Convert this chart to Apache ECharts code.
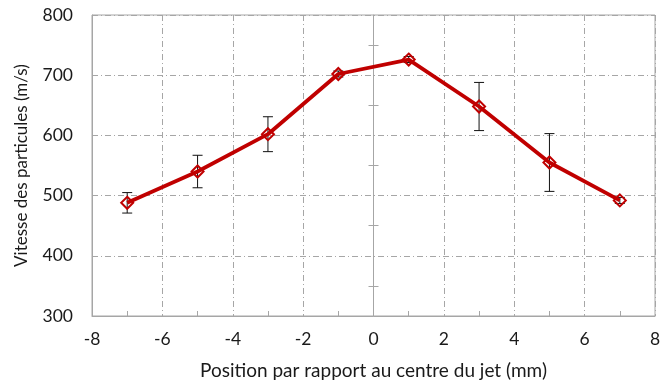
<!DOCTYPE html>
<html>
<head>
<meta charset="utf-8">
<script src="https://cdn.jsdelivr.net/npm/echarts@6/dist/echarts.min.js"></script>
<style>
  html, body { margin: 0; padding: 0; background: #fff; }
  #chart { width: 665px; height: 385px; }
</style>
</head>
<body>
<div id="chart"></div>
<script>
// Particle velocity across the jet, with measurement spread
const positions = [-7, -5, -3, -1, 1, 3, 5, 7];            // mm
const velocities = [488, 540, 602, 702, 726, 648, 555, 492]; // m/s
const spreads = [17, 27, 29, 5, 5, 40, 48, 5];               // ± m/s

const xTitle = 'Position par rapport au centre du jet (mm)';
const yTitle = 'Vitesse des particules (m/s)';

const FONT = 'Lato, "Open Sans", sans-serif';
const FRAME = '#a6a6a6';
const GRID = '#a6a6a6';
const RED = '#c00000';
const TEXT = '#1a1a1a';

const lineData = positions.map((x, i) => [x, velocities[i]]);
const barData = positions.map((x, i) => [x, velocities[i] - spreads[i], velocities[i] + spreads[i]]);

const chart = echarts.init(document.getElementById('chart'), null, { renderer: 'canvas' });

chart.setOption({
  animation: false,
  backgroundColor: '#fff',
  grid: {
    left: 92, right: 10, top: 15, bottom: 67,
    show: true, borderColor: FRAME, borderWidth: 1, backgroundColor: 'transparent'
  },
  xAxis: {
    type: 'value', min: -8, max: 8, interval: 2,
    name: xTitle, nameLocation: 'middle', nameGap: 45,
    nameTextStyle: { fontFamily: FONT, fontSize: 19, color: TEXT },
    axisLine: { show: true, onZero: false, lineStyle: { color: FRAME, width: 1 } },
    axisTick: { show: false, inside: true },
    minorTick: { show: true, splitNumber: 2, length: 5, lineStyle: { color: FRAME } },
    axisLabel: { fontFamily: FONT, fontSize: 17.5, color: TEXT, margin: 14 },
    splitLine: {
      show: true,
      lineStyle: { color: GRID, width: 1, type: [6, 3, 1, 3] }
    },
    minorSplitLine: { show: false }
  },
  yAxis: [
    {
      type: 'value', min: 300, max: 800, interval: 100,
      name: yTitle, nameLocation: 'middle', nameGap: 62,
      nameTextStyle: { fontFamily: FONT, fontSize: 17, color: TEXT },
      axisLine: { show: true, onZero: false, lineStyle: { color: FRAME, width: 1 } },
      axisTick: { show: false },
      axisLabel: { fontFamily: FONT, fontSize: 17.5, color: TEXT, margin: 19 },
      splitLine: {
        show: true,
        lineStyle: { color: GRID, width: 1, type: [6, 3, 1, 3] }
      }
    },
    {
      // central axis through x = 0, minor ticks pointing right
      type: 'value', min: 300, max: 800, interval: 100,
      axisLine: { show: true, onZero: true, onZeroAxisIndex: 0, lineStyle: { color: FRAME, width: 1 } },
      axisTick: { show: false, inside: true },
      minorTick: { show: true, splitNumber: 2, length: 5, lineStyle: { color: FRAME } },
      axisLabel: { show: false },
      splitLine: { show: false }
    },
    {
      // central axis through x = 0, minor ticks pointing left
      type: 'value', min: 300, max: 800, interval: 100,
      axisLine: { show: false, onZero: true, onZeroAxisIndex: 0 },
      axisTick: { show: false, inside: false },
      minorTick: { show: true, splitNumber: 2, length: 5, lineStyle: { color: FRAME } },
      axisLabel: { show: false },
      splitLine: { show: false }
    }
  ],
  series: [
    {
      type: 'custom',
      name: 'spread',
      z: 1,
      data: barData,
      encode: { x: 0, y: [1, 2] },
      renderItem: function (params, api) {
        const x = api.value(0);
        const lo = api.coord([x, api.value(1)]);
        const hi = api.coord([x, api.value(2)]);
        const half = 5;
        const style = { stroke: '#111', lineWidth: 1 };
        return {
          type: 'group',
          children: [
            { type: 'line', shape: { x1: lo[0], y1: lo[1], x2: hi[0], y2: hi[1] }, style: style },
            { type: 'line', shape: { x1: lo[0] - half, y1: lo[1], x2: lo[0] + half, y2: lo[1] }, style: style },
            { type: 'line', shape: { x1: hi[0] - half, y1: hi[1], x2: hi[0] + half, y2: hi[1] }, style: style }
          ]
        };
      }
    },
    {
      type: 'line',
      name: 'vitesse',
      z: 3,
      data: lineData,
      lineStyle: { color: RED, width: 3.8 },
      symbol: 'diamond',
      symbolSize: 12,
      itemStyle: { color: 'transparent', borderColor: RED, borderWidth: 2 }
    }
  ]
});
</script>
</body>
</html>
